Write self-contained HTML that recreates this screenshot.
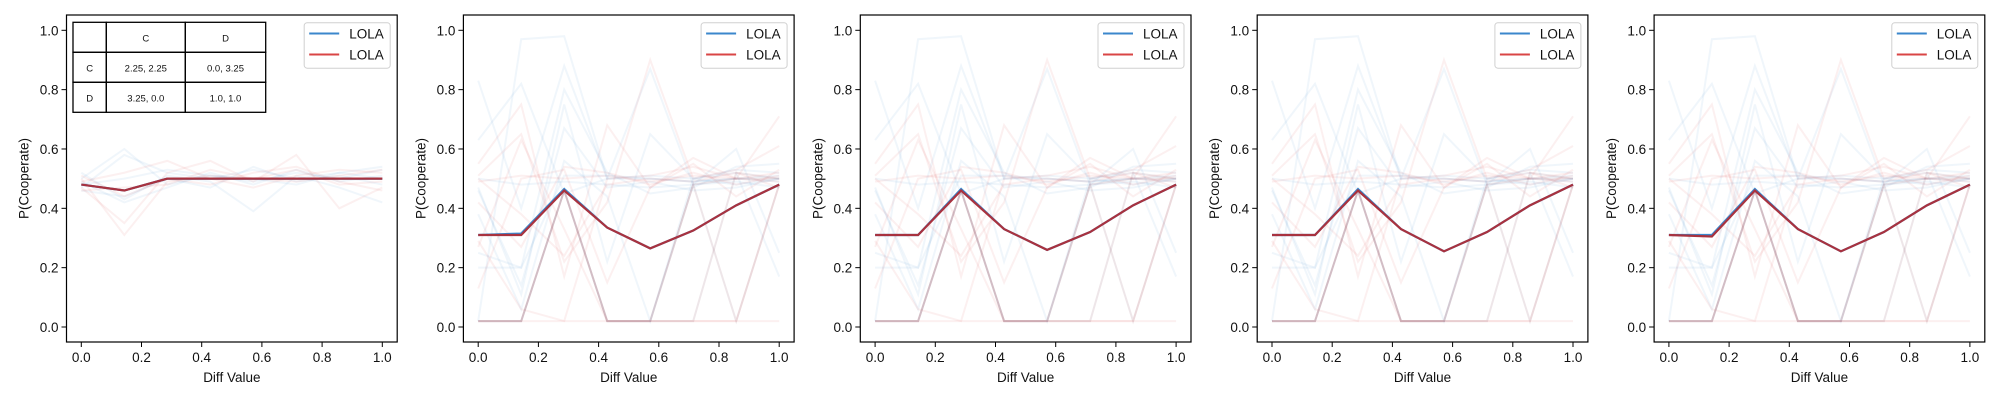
<!DOCTYPE html>
<html><head><meta charset="utf-8"><style>
html,body{margin:0;padding:0;background:#fff;}
svg{display:block;font-family:"Liberation Sans","DejaVu Sans",sans-serif;}
</style></head><body>
<svg id="fig" width="2000" height="400" viewBox="0 0 2000 400" xmlns="http://www.w3.org/2000/svg"></svg>
<script>
const xValues = [0, 1/7, 2/7, 3/7, 4/7, 5/7, 6/7, 1];
const xTicks = [0, 0.2, 0.4, 0.6, 0.8, 1.0];
const yTicks = [0, 0.2, 0.4, 0.6, 0.8, 1.0];
const xTickLabels = ["0.0","0.2","0.4","0.6","0.8","1.0"];
const yTickLabels = ["0.0","0.2","0.4","0.6","0.8","1.0"];
const meanBlue = [
  [0.48,0.46,0.50,0.50,0.50,0.50,0.50,0.50],
  [0.31,0.315,0.465,0.335,0.265,0.325,0.41,0.48],
  [0.31,0.31,0.465,0.33,0.26,0.32,0.41,0.48],
  [0.31,0.31,0.465,0.33,0.255,0.32,0.41,0.48],
  [0.31,0.31,0.465,0.33,0.255,0.32,0.41,0.48]
];
const meanRed = [
  [0.48,0.46,0.50,0.50,0.50,0.50,0.50,0.50],
  [0.31,0.31,0.46,0.335,0.265,0.325,0.41,0.48],
  [0.31,0.31,0.46,0.33,0.26,0.32,0.41,0.48],
  [0.31,0.31,0.46,0.33,0.255,0.32,0.41,0.48],
  [0.31,0.305,0.46,0.33,0.255,0.32,0.41,0.48]
];
const faintBlue1 = [
  [0.47,0.58,0.52,0.50,0.53,0.50,0.52,0.50],
  [0.50,0.60,0.48,0.51,0.49,0.52,0.50,0.53],
  [0.46,0.44,0.50,0.47,0.54,0.49,0.51,0.48],
  [0.52,0.43,0.51,0.49,0.39,0.51,0.47,0.42],
  [0.48,0.50,0.53,0.51,0.50,0.48,0.52,0.54],
  [0.49,0.42,0.47,0.52,0.48,0.53,0.49,0.51]
];
const faintRed1 = [
  [0.50,0.31,0.49,0.51,0.50,0.53,0.48,0.49],
  [0.47,0.35,0.52,0.56,0.49,0.58,0.40,0.47],
  [0.49,0.52,0.56,0.50,0.47,0.51,0.53,0.52],
  [0.51,0.44,0.50,0.48,0.52,0.54,0.49,0.46],
  [0.46,0.47,0.48,0.53,0.50,0.49,0.51,0.53]
];
const faintBlue = [
  [0.83,0.40,0.88,0.50,0.50,0.49,0.50,0.51],
  [0.02,0.97,0.98,0.50,0.51,0.50,0.48,0.50],
  [0.63,0.82,0.45,0.50,0.87,0.48,0.60,0.25],
  [0.47,0.11,0.75,0.22,0.65,0.50,0.52,0.17],
  [0.25,0.20,0.80,0.52,0.45,0.47,0.54,0.55],
  [0.20,0.20,0.51,0.51,0.50,0.49,0.50,0.49],
  [0.38,0.06,0.56,0.44,0.02,0.50,0.53,0.52],
  [0.46,0.14,0.67,0.47,0.49,0.46,0.47,0.50],
  [0.50,0.48,0.49,0.48,0.47,0.48,0.49,0.47]
];
const faintRed = [
  [0.55,0.75,0.17,0.68,0.47,0.57,0.50,0.71],
  [0.51,0.65,0.22,0.42,0.90,0.50,0.53,0.61],
  [0.27,0.63,0.33,0.02,0.02,0.02,0.02,0.48],
  [0.42,0.27,0.54,0.52,0.48,0.52,0.48,0.51],
  [0.13,0.50,0.53,0.15,0.47,0.55,0.44,0.53],
  [0.29,0.06,0.02,0.50,0.51,0.54,0.50,0.49],
  [0.50,0.38,0.24,0.48,0.50,0.49,0.52,0.47],
  [0.02,0.02,0.02,0.02,0.02,0.02,0.02,0.02],
  [0.49,0.51,0.50,0.51,0.49,0.51,0.50,0.52]
];
const zigzagRuns = [
  [0.02,0.02,0.46,0.02,0.02,0.48,0.50,0.50],
  [0.02,0.02,0.46,0.02,0.02,0.02,0.52,0.50],
  [0.02,0.02,0.46,0.02,0.02,0.48,0.02,0.48]
];
const tableRows = [["","C","D"],["C","2.25, 2.25","0.0, 3.25"],["D","3.25, 0.0","1.0, 1.0"]];

const NS = "http://www.w3.org/2000/svg";
const svg = document.getElementById("fig");
function mk(tag, attrs, parent){ const e=document.createElementNS(NS,tag); for(const k in attrs) e.setAttribute(k,attrs[k]); (parent||svg).appendChild(e); return e; }

const BLUE="#3b87cc", RED="#d94545";
for(let p=0;p<5;p++){
  const L=66.5+396.9*p, R=L+330.7, T=15, B=342;
  const x0=L+14.8, x1=L+315.8, yb=327, yt=30.3;
  const sx=v=>x0+(x1-x0)*v, sy=v=>yb-(yb-yt)*v;
  const g=mk("g",{});
  
  
  const pts=arr=>arr.map((v,i)=>sx(xValues[i]).toFixed(2)+","+sy(v).toFixed(2)).join(" ");
  const fb = p===0?faintBlue1:faintBlue, fr = p===0?faintRed1:faintRed;
  fb.forEach((s,i)=>{ const l=mk("polyline",{points:pts(s),fill:"none",stroke:BLUE,"stroke-width":2,"stroke-opacity":0.08},g);
    
     });
  fr.forEach((s,i)=>{ const l=mk("polyline",{points:pts(s),fill:"none",stroke:RED,"stroke-width":2,"stroke-opacity":0.08},g);
    
     });
  if(p>0){ zigzagRuns.forEach((s,i)=>{ const l=mk("polyline",{points:pts(s),fill:"none",stroke:"#8a4f66","stroke-width":2,"stroke-opacity":0.14},g);
    
     }); }
  const mb=mk("polyline",{points:pts(meanBlue[p]),fill:"none",stroke:BLUE,"stroke-width":2.2},g);
  
  
  const mr=mk("polyline",{points:pts(meanRed[p]),fill:"none",stroke:"#a8323f","stroke-width":2.2},g);
  
  
  const fr2=mk("rect",{x:L,y:T,width:R-L,height:B-T,fill:"none",stroke:"#000","stroke-width":1.2},g);
  
  
  xTicks.forEach((v,i)=>{ mk("line",{x1:sx(v),x2:sx(v),y1:B,y2:B+5,stroke:"#000"},g);
    const t=mk("text",{x:sx(v),y:B+20,"text-anchor":"middle","font-size":13.5,fill:"#111"},g); t.textContent=xTickLabels[i];
    
     });
  yTicks.forEach((v,i)=>{ mk("line",{x1:L-5,x2:L,y1:sy(v),y2:sy(v),stroke:"#000"},g);
    const t=mk("text",{x:L-8,y:sy(v)+5,"text-anchor":"end","font-size":13.5,fill:"#111"},g); t.textContent=yTickLabels[i];
    
     });
  const xl=mk("text",{x:(L+R)/2,y:382,"text-anchor":"middle","font-size":13.5,fill:"#111"},g); xl.textContent="Diff Value";
  
  
  const yl=mk("text",{x:0,y:0,"text-anchor":"middle","font-size":13.5,fill:"#111",transform:`translate(${L-38},${(T+B)/2}) rotate(-90)`},g); yl.textContent="P(Cooperate)";
  
  
  const lg=mk("g",{},g);
  
  
  const lx=R-93;
  mk("rect",{x:lx,y:22.7,width:86,height:45.5,rx:3,fill:"#fff","fill-opacity":0.85,stroke:"#d0d0d0"},lg);
  [[BLUE,33.5],[RED,54.5]].forEach(([c,y])=>{
    const e=mk("g",{},lg);
    
    
    mk("line",{x1:lx+5,x2:lx+35,y1:y,y2:y,stroke:c,"stroke-width":2},e);
    const t=mk("text",{x:lx+45,y:y+5,"font-size":13.5,fill:"#111"},e); t.textContent="LOLA";
  });
  if(p===0){
    const tg=mk("g",{},g);
    
    
    const cx=[73,106.3,185.3,265.7], ry=[22.3,52.3,82.3,112.3];
    mk("rect",{x:73,y:22.3,width:192.7,height:90,fill:"#fff"},tg);
    tableRows.forEach((row,r)=>row.forEach((txt,c)=>{
      mk("rect",{x:cx[c],y:ry[r],width:cx[c+1]-cx[c],height:30,fill:"none",stroke:"#000","stroke-width":1.3},tg);
      if(txt){ const t=mk("text",{x:(cx[c]+cx[c+1])/2,y:ry[r]+19,"text-anchor":"middle","font-size":9.5,fill:"#111"},tg); t.textContent=txt;
        
         }
    }));
  }
}
</script>
</body></html>
